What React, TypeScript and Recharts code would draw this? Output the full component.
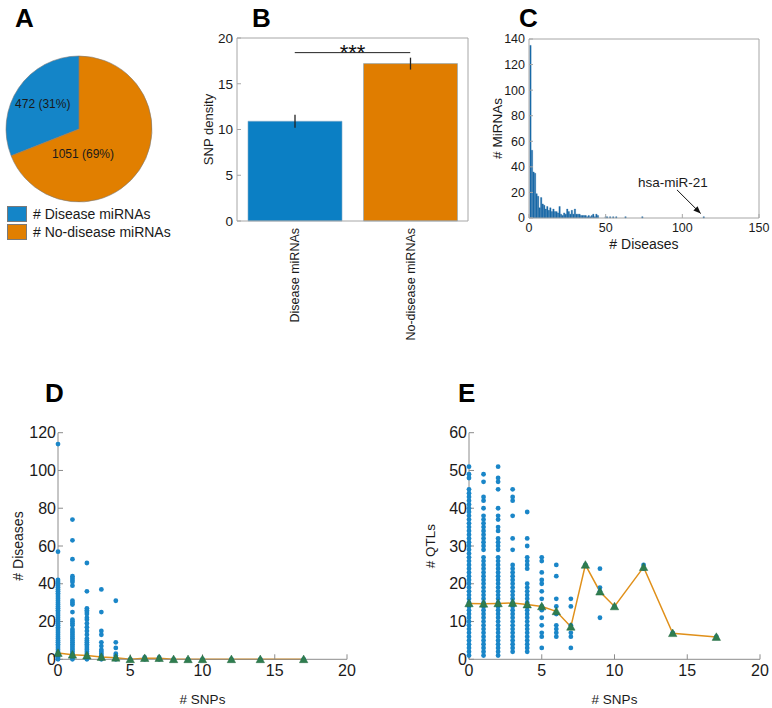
import React from "react"
import {
  Bar,
  BarChart,
  Cell,
  ComposedChart,
  ErrorBar,
  Line,
  Pie,
  PieChart,
  ReferenceLine,
  Scatter,
  XAxis,
  YAxis,
} from "recharts"

const FONT = "'Liberation Sans', Arial, Helvetica, sans-serif"
const INK = "#1a1a1a"
const BOX = "#a6a6a6"
const AXIS = "#8c8c8c"

// A: share of disease / no-disease miRNAs
const pieGroups = ["# Disease miRNAs", "# No-disease miRNAs"]
const pieCounts = [472, 1051]
const piePercents = [31, 69]

// B: mean SNP density per group
const barGroups = ["Disease miRNAs", "No-disease miRNAs"]
const snpDensity = [10.9, 17.2]
const snpDensityErr = [0.7, 0.65]
const sigLineY = 18.4

// C: histogram of # miRNAs per # diseases
const histDiseases = [
  1, 2, 3, 4, 5, 6, 7, 8, 9, 10, 11, 12, 13, 14, 15, 16, 17, 18, 19, 20, 21, 22, 23, 24, 25,
  26, 27, 28, 29, 30, 31, 32, 33, 34, 35, 36, 37, 38, 39, 40, 41, 42, 43, 44, 45, 50, 51, 53,
  55, 57, 63, 74, 114,
]
const histMirnas = [
  135, 53, 36, 35, 19, 17, 8, 16, 11, 10, 7, 9, 6, 8, 5, 7, 5, 5, 4, 9, 3, 2, 4, 3, 7,
  5, 3, 6, 3, 7, 3, 3, 3, 2, 2, 2, 2, 1, 2, 1, 2, 3, 1, 3, 2, 1, 1, 1,
  1, 1, 1, 1, 1,
]
const annotText = "hsa-miR-21"
const annotFrom = { x: 96.5, y: 22 }
const annotTo = { x: 112, y: 3.5 }

// D: # diseases vs # SNPs
const snpCounts = [0, 1, 2, 3, 4, 5, 6, 7, 8, 9, 10, 12, 14, 17]
const dDiseases = [
  [0, 1, 2, 3, 4, 5, 6, 7, 8, 9, 10, 11, 12, 13, 14, 15, 16, 17, 18, 19, 20, 21, 22, 23, 24, 25, 26, 27, 28, 29, 30, 31, 32, 33, 34, 35, 36, 37, 38, 39, 40, 41, 42, 57, 114],
  [0, 1, 2, 3, 4, 5, 6, 7, 8, 9, 10, 11, 12, 13, 14, 15, 16, 18, 19, 20, 21, 25, 29, 30, 31, 39, 41, 42, 43, 44, 53, 63, 74],
  [0, 1, 2, 3, 4, 5, 6, 7, 8, 9, 10, 11, 13, 15, 17, 19, 21, 22, 24, 25, 26, 27, 36, 51],
  [0, 1, 2, 3, 4, 5, 7, 9, 13, 15, 25, 37],
  [0, 1, 2, 3, 6, 9, 31],
  [0],
  [0, 1],
  [0, 1],
  [0],
  [0],
  [0],
  [0],
  [0],
  [0],
]
const dMeans = [3.3, 2.4, 2.0, 1.2, 0.8, 0, 0.6, 0.6, 0, 0, 0, 0, 0, 0]

// E: # QTLs vs # SNPs
const eQtls = [
  [1, 2, 3, 4, 5, 6, 7, 8, 9, 10, 11, 12, 13, 14, 15, 16, 17, 18, 19, 20, 21, 22, 23, 24, 25, 26, 27, 28, 29, 30, 31, 32, 33, 34, 35, 36, 37, 38, 39, 40, 41, 42, 43, 44, 45, 48, 49, 51],
  [1, 2, 3, 4, 5, 6, 7, 8, 9, 10, 11, 12, 13, 14, 15, 16, 17, 18, 19, 20, 21, 22, 23, 24, 25, 26, 27, 29, 30, 31, 32, 33, 34, 35, 36, 37, 38, 40, 42, 43, 47, 49],
  [1, 2, 3, 4, 5, 6, 7, 8, 9, 10, 11, 12, 13, 14, 15, 16, 17, 18, 19, 20, 21, 22, 23, 24, 25, 26, 27, 29, 30, 31, 32, 34, 35, 37, 38, 40, 45, 47, 48, 51],
  [2, 3, 4, 5, 6, 7, 8, 9, 10, 11, 12, 13, 14, 15, 16, 17, 18, 19, 20, 21, 22, 23, 24, 25, 29, 32, 38, 42, 43, 45],
  [2, 3, 4, 5, 6, 7, 8, 9, 10, 11, 12, 13, 14, 15, 16, 17, 18, 19, 20, 24, 25, 26, 27, 30, 32, 39],
  [3, 6, 7, 9, 11, 13, 14, 16, 18, 20, 21, 23, 26, 27],
  [6, 7, 8, 9, 12, 14, 16, 22, 25],
  [3, 6, 7, 9, 14, 16],
  [25],
  [11, 18, 19, 24],
  [14],
  [24, 25],
  [7],
  [6],
]
const eMeans = [14.8, 14.7, 14.8, 14.9, 14.5, 14.0, 12.7, 8.6, 25, 17.9, 14, 24.4, 6.9, 5.9]

const snpTicks = [0, 5, 10, 15, 20]

const pieData = pieGroups.map((name, i) => ({ name, value: pieCounts[i], pct: piePercents[i] }))
const pieColors = ["#1485c8", "#e17f00"]
// where each slice's text sits: fraction of radius, and angle (null = slice middle)
const pieLabelSpots = [
  { r: 0.6, angle: null as number | null },
  { r: 0.35, angle: 279 },
]

const barData = barGroups.map((name, i) => ({ name, density: snpDensity[i], err: snpDensityErr[i] }))
const barColors = ["#0b7fc4", "#e07d00"]

const histData = histDiseases.map((d, i) => ({ diseases: d, mirnas: histMirnas[i] }))

const dPoints = snpCounts.flatMap((s, i) => dDiseases[i].map((v) => ({ x: s, y: v })))
const dMeanPoints = snpCounts.map((s, i) => ({ x: s, y: dMeans[i] }))
const ePoints = snpCounts.flatMap((s, i) => eQtls[i].map((v) => ({ x: s, y: v })))
const eMeanPoints = snpCounts.map((s, i) => ({ x: s, y: eMeans[i] }))

const renderPieLabel = (props: any) => {
  const { cx, cy, outerRadius, midAngle, index } = props
  const spot = pieLabelSpots[index]
  const ang = ((spot.angle ?? midAngle) * Math.PI) / 180
  const x = cx + outerRadius * spot.r * Math.cos(ang)
  const y = cy - outerRadius * spot.r * Math.sin(ang)
  return (
    <text x={x} y={y} textAnchor="middle" dominantBaseline="central" fontSize={12} fill={INK}>
      {`${pieData[index].value} (${pieData[index].pct}%)`}
    </text>
  )
}

const RotatedTick = (props: any) => {
  const { x, y, payload } = props
  return (
    <text x={x} y={y} transform={`rotate(-90, ${x}, ${y})`} textAnchor="end" dy="0.35em" fontSize={12.5} fill={INK}>
      {payload.value}
    </text>
  )
}

const AnnotArrow = (props: any) => {
  const { x1, y1, x2, y2 } = props
  const a = Math.atan2(y2 - y1, x2 - x1)
  const len = 8
  const spread = 0.38
  const p1 = `${x2 - len * Math.cos(a - spread)},${y2 - len * Math.sin(a - spread)}`
  const p2 = `${x2 - len * Math.cos(a + spread)},${y2 - len * Math.sin(a + spread)}`
  return (
    <g>
      <line x1={x1} y1={y1} x2={x2} y2={y2} stroke="#111" strokeWidth={1} />
      <polygon points={`${x2},${y2} ${p1} ${p2}`} fill="#111" />
      <text x={x1 - 4} y={y1 - 3} textAnchor="middle" fontSize={13.5} fill={INK}>
        {annotText}
      </text>
    </g>
  )
}

const BlueDot = (p: any) => <circle cx={p.cx} cy={p.cy} r={2.4} fill="#1a86c8" />

const GreenTri = (p: any) => {
  const { cx, cy } = p
  const s = 4.2
  return (
    <polygon
      points={`${cx},${cy - s} ${cx - s},${cy + s * 0.8} ${cx + s},${cy + s * 0.8}`}
      fill="#2f7d4f"
      stroke="#256a40"
      strokeWidth={0.5}
    />
  )
}

const tickStyle = (size: number) => ({ fill: INK, fontSize: size })

function Letter({ x, y, children }: { x: number; y: number; children: string }) {
  return (
    <text x={x} y={y} fontSize={26} fontWeight={700} fill="#000">
      {children}
    </text>
  )
}

export default function App() {
  return (
    <div
      style={{
        position: "absolute",
        left: 0,
        top: 0,
        width: 772,
        height: 708,
        background: "#fff",
        fontFamily: FONT,
        overflow: "hidden",
      }}
    >
      {/* A */}
      <div style={{ position: "absolute", left: 0, top: 0 }}>
        <PieChart width={160} height={205} margin={{ top: 0, right: 0, bottom: 0, left: 0 }}>
          <Pie
            data={pieData}
            dataKey="value"
            cx={79}
            cy={129}
            outerRadius={73}
            startAngle={90}
            endAngle={450}
            label={renderPieLabel}
            labelLine={false}
            stroke="#7a7a7a"
            strokeWidth={0.6}
            isAnimationActive={false}
          >
            {pieData.map((d, i) => (
              <Cell key={d.name} fill={pieColors[i]} />
            ))}
          </Pie>
        </PieChart>
      </div>
      <div style={{ position: "absolute", left: 7, top: 205 }}>
        {pieData.map((d, i) => (
          <div key={d.name} style={{ display: "flex", alignItems: "center", height: 18 }}>
            <div style={{ width: 20, height: 16, background: pieColors[i], boxSizing: "border-box", border: "1px solid #7a7a7a" }} />
            <span style={{ marginLeft: 6, fontSize: 14, color: INK, whiteSpace: "nowrap" }}>{d.name}</span>
          </div>
        ))}
      </div>

      {/* B */}
      <div style={{ position: "absolute", left: 160, top: 0 }}>
        <BarChart width={320} height={360} data={barData} margin={{ top: 37, right: 11, bottom: 9, left: 37 }}>
          <XAxis
            dataKey="name"
            height={130}
            interval={0}
            tickLine={false}
            tickSize={0}
            tickMargin={7}
            tick={<RotatedTick />}
            stroke={BOX}
          />
          <XAxis xAxisId="top" orientation="top" dataKey="name" height={1} tick={false} tickLine={false} stroke={BOX} />
          <YAxis
            width={40}
            domain={[0, 20]}
            ticks={[0, 5, 10, 15, 20]}
            interval={0}
            tickSize={-4}
            tickMargin={8}
            stroke={BOX}
            tick={tickStyle(13.5)}
            label={{ value: "SNP density", angle: -90, position: "insideLeft", offset: 11, fontSize: 13, fill: INK, style: { textAnchor: "middle" } }}
          />
          <YAxis yAxisId="right" orientation="right" width={1} domain={[0, 20]} ticks={[0, 5, 10, 15, 20]} tick={false} tickSize={-4} stroke={BOX} />
          <Bar dataKey="density" barSize={94} isAnimationActive={false}>
            {barData.map((d, i) => (
              <Cell key={d.name} fill={barColors[i]} stroke="#7fa8c8" strokeWidth={0.6} />
            ))}
            <ErrorBar dataKey="err" width={0} stroke="#222" strokeWidth={1.3} direction="y" />
          </Bar>
          <ReferenceLine
            segment={[
              { x: barGroups[0], y: sigLineY },
              { x: barGroups[1], y: sigLineY },
            ]}
            stroke="#222"
            strokeWidth={1}
            label={{ value: "***", position: "top", offset: -7, fontSize: 22, fill: "#111" }}
          />
        </BarChart>
      </div>

      {/* C */}
      <div style={{ position: "absolute", left: 480, top: 0 }}>
        <BarChart width={292} height={260} data={histData} margin={{ top: 38, right: 12, bottom: 8, left: 0 }} barCategoryGap={0}>
          <XAxis
            type="number"
            dataKey="diseases"
            domain={[0, 150]}
            ticks={[0, 50, 100, 150]}
            interval={0}
            height={34}
            tickSize={-4}
            tickMargin={9}
            stroke={BOX}
            tick={tickStyle(12.5)}
            label={{ value: "# Diseases", position: "insideBottom", offset: 3, fontSize: 14, fill: INK }}
          />
          <XAxis xAxisId="top" type="number" orientation="top" domain={[0, 150]} ticks={[0, 50, 100, 150]} height={1} tick={false} tickSize={-4} stroke={BOX} />
          <YAxis
            width={49}
            domain={[0, 140]}
            ticks={[0, 20, 40, 60, 80, 100, 120, 140]}
            interval={0}
            tickSize={-4}
            tickMargin={8}
            stroke={BOX}
            tick={tickStyle(12.5)}
            label={{ value: "# MiRNAs", angle: -90, position: "insideLeft", offset: 17, fontSize: 13.5, fill: INK, style: { textAnchor: "middle" } }}
          />
          <YAxis yAxisId="right" orientation="right" width={1} domain={[0, 140]} ticks={[0, 20, 40, 60, 80, 100, 120, 140]} tick={false} tickSize={-4} stroke={BOX} />
          <Bar dataKey="mirnas" fill="#1a6cab" stroke="#175f98" strokeWidth={0.3} barSize={1.6} isAnimationActive={false} />
          <ReferenceLine segment={[annotFrom, annotTo]} shape={<AnnotArrow />} />
        </BarChart>
      </div>

      {/* D */}
      <div style={{ position: "absolute", left: 0, top: 380 }}>
        <ComposedChart width={380} height={328} margin={{ top: 52.7, right: 33, bottom: 2.7, left: 0 }}>
          <XAxis
            type="number"
            dataKey="x"
            domain={[0, 20]}
            ticks={snpTicks}
            interval={0}
            height={46}
            tickSize={-5}
            tickMargin={10.7}
            stroke={AXIS}
            tick={tickStyle(16)}
            label={{ value: "# SNPs", position: "insideBottom", offset: 1.3, fontSize: 13.5, fill: INK }}
          />
          <YAxis
            type="number"
            dataKey="y"
            width={58}
            domain={[0, 120]}
            ticks={[0, 20, 40, 60, 80, 100, 120]}
            interval={0}
            tickSize={-5}
            tickMargin={7}
            stroke={AXIS}
            tick={tickStyle(16)}
            label={{ value: "# Diseases", angle: -90, position: "insideLeft", offset: 18, fontSize: 14, fill: INK, style: { textAnchor: "middle" } }}
          />
          <Scatter data={dPoints} shape={BlueDot} isAnimationActive={false} />
          <Line data={dMeanPoints} dataKey="y" type="linear" stroke="#e0901a" strokeWidth={1.5} dot={false} isAnimationActive={false} />
          <Scatter data={dMeanPoints} shape={GreenTri} isAnimationActive={false} />
        </ComposedChart>
      </div>

      {/* E */}
      <div style={{ position: "absolute", left: 390, top: 380 }}>
        <ComposedChart width={382} height={328} margin={{ top: 52.7, right: 12, bottom: 2.7, left: 0 }}>
          <XAxis
            type="number"
            dataKey="x"
            domain={[0, 20]}
            ticks={snpTicks}
            interval={0}
            height={46}
            tickSize={-5}
            tickMargin={10.7}
            stroke={AXIS}
            tick={tickStyle(16)}
            label={{ value: "# SNPs", position: "insideBottom", offset: 1.3, fontSize: 13.5, fill: INK }}
          />
          <YAxis
            type="number"
            dataKey="y"
            width={79}
            domain={[0, 60]}
            ticks={[0, 10, 20, 30, 40, 50, 60]}
            interval={0}
            tickSize={-5}
            tickMargin={7}
            stroke={AXIS}
            tick={tickStyle(16)}
            label={{ value: "# QTLs", angle: -90, position: "insideLeft", offset: 40, fontSize: 13.5, fill: INK, style: { textAnchor: "middle" } }}
          />
          <Scatter data={ePoints} shape={BlueDot} isAnimationActive={false} />
          <Line data={eMeanPoints} dataKey="y" type="linear" stroke="#e0901a" strokeWidth={1.5} dot={false} isAnimationActive={false} />
          <Scatter data={eMeanPoints} shape={GreenTri} isAnimationActive={false} />
        </ComposedChart>
      </div>

      <svg width={772} height={708} style={{ position: "absolute", left: 0, top: 0, pointerEvents: "none" }}>
        <Letter x={15} y={27}>A</Letter>
        <Letter x={252} y={27}>B</Letter>
        <Letter x={519} y={27}>C</Letter>
        <Letter x={45} y={402}>D</Letter>
        <Letter x={458} y={402}>E</Letter>
      </svg>
    </div>
  )
}
